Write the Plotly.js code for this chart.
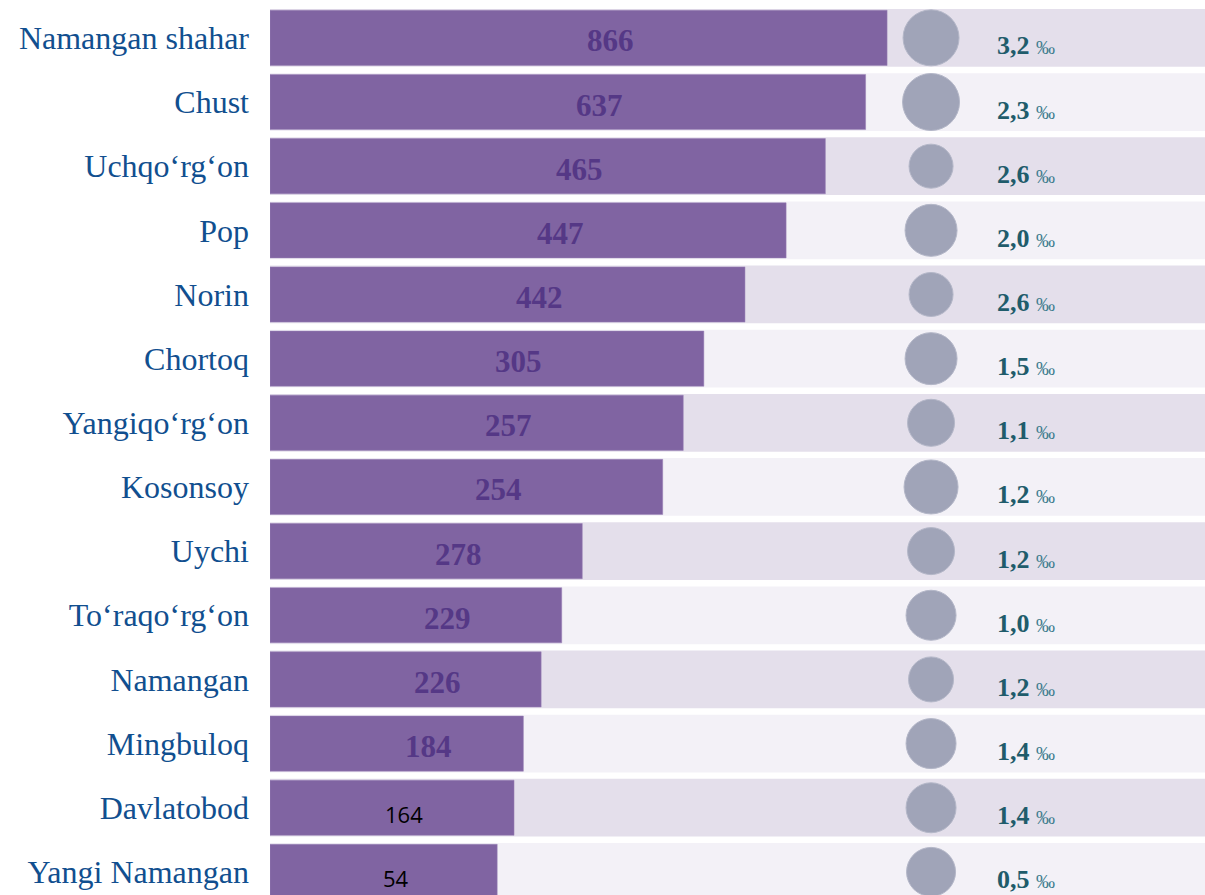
<!DOCTYPE html>
<html>
<head>
<meta charset="utf-8">
<script src="https://cdn.plot.ly/plotly-3.0.1.min.js"></script>
<style>html,body{margin:0;padding:0;background:#fff;}#chart{width:1205px;height:895px;}</style>
</head>
<body>
<div id="chart"></div>
<script>
// Districts (top to bottom)
const categories = ["Namangan shahar","Chust","Uchqo‘rg‘on","Pop","Norin","Chortoq","Yangiqo‘rg‘on","Kosonsoy","Uychi","To‘raqo‘rg‘on","Namangan","Mingbuloq","Davlatobod","Yangi Namangan"];
// Printed values inside bars
const barLabels = [866,637,465,447,442,305,257,254,278,229,226,184,164,54];
// Drawn bar lengths (0–100 scale of the band)
const barLength = [66.0,63.7,59.4,55.2,50.8,46.4,44.2,42.0,33.4,31.2,29.0,27.1,26.1,24.3];
// Rate labels (‰)
const rates = ["3,2","2,3","2,6","2,0","2,6","1,5","1,1","1,2","1,2","1,0","1,2","1,4","1,4","0,5"];
// Circle diameters
const circleDiam = [56,57,44,52,44,52,47,54,47,50,45,50,50,49];

const X_MAX = 100, CIRCLE_X = 70.7, RATE_X = 77.5;
const SERIF = "Liberation Serif, Times New Roman, serif";

const bandColors = categories.map((c,i)=> i%2===0 ? "#E4DFEB" : "#F3F1F7");

const traces = [
  { type:"bar", orientation:"h", y:categories, x:categories.map(()=>X_MAX),
    width:0.9, marker:{color:bandColors}, hoverinfo:"skip" },
  { type:"bar", orientation:"h", y:categories, x:barLength,
    width:0.86, marker:{color:"#8064A2", line:{color:"#9a82b6", width:0.5}}, hoverinfo:"skip" },
  { type:"scatter", mode:"markers", y:categories, x:categories.map(()=>CIRCLE_X),
    marker:{size:circleDiam, opacity:1, color:"#A0A4B8", line:{color:"#b4b7c8", width:1}}, hoverinfo:"skip", cliponaxis:false }
];

const annotations = [];
categories.forEach((c,i)=>{
  const plain = i >= 12;
  annotations.push({
    x: barLength[i]/2, y: c, xref:"x", yref:"y", showarrow:false,
    text: plain ? String(barLabels[i]) : "<b>"+barLabels[i]+"</b>",
    xshift: plain ? 12 : 32, yshift: plain ? -6 : -3,
    font: plain ? {family:"Open Sans, Liberation Sans, sans-serif", size:22, color:"#000000"}
                : {family:SERIF, size:31, color:"#553886"}
  });
  annotations.push({
    x: RATE_X, y: c, xref:"x", yref:"y", xanchor:"left", showarrow:false, yshift:-8,
    text: "<b>"+rates[i]+"</b> <span style='font-size:19px;color:#3E7C8E;font-family:Liberation Serif'>‰</span>",
    font:{family:SERIF, size:26, color:"#1F5C6B"}
  });
});

const layout = {
  width:1205, height:895,
  margin:{l:270, r:0, t:0, b:0, pad:0},
  paper_bgcolor:"#ffffff", plot_bgcolor:"#ffffff",
  barmode:"overlay", showlegend:false, hovermode:false,
  xaxis:{range:[0,X_MAX], visible:false, fixedrange:true},
  yaxis:{type:"category", range:[13.36,-0.59], showgrid:false, zeroline:false, showline:false,
    ticks:"", ticklabelstandoff:20,
    tickfont:{family:SERIF, size:32, color:"#114F8F"}},
  annotations:annotations
};

Plotly.newPlot("chart", traces, layout, {displayModeBar:false, staticPlot:true});
</script>
</body>
</html>
